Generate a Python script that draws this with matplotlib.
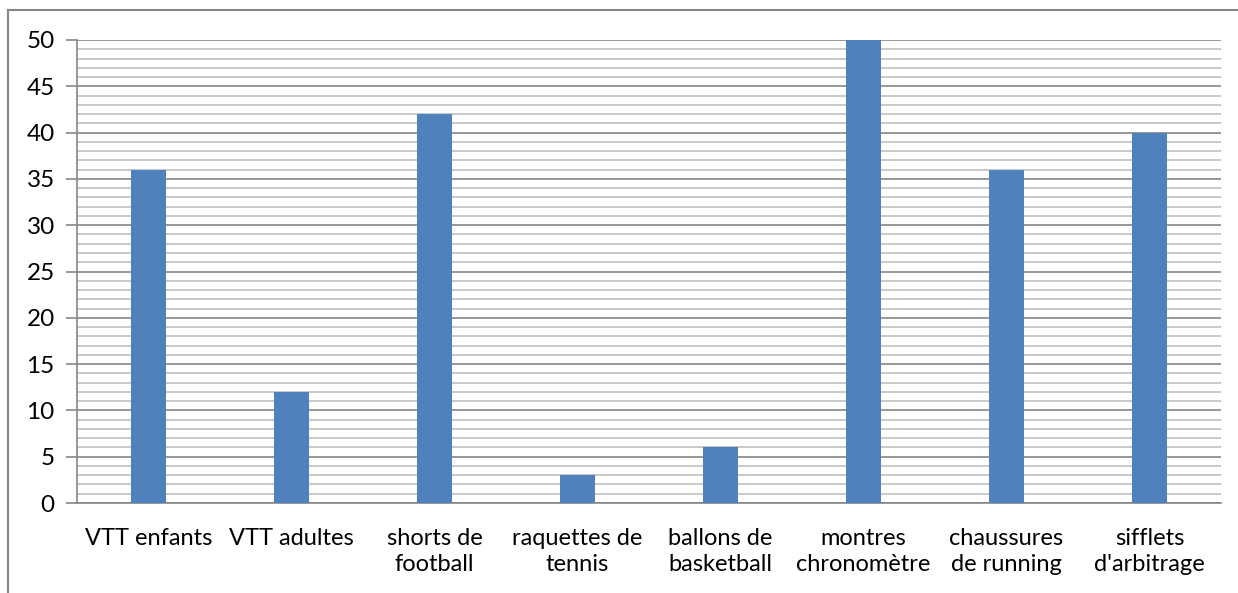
import matplotlib.pyplot as plt
from matplotlib.ticker import MultipleLocator
from matplotlib.lines import Line2D

categories = ["VTT enfants", "VTT adultes", "shorts de\nfootball", "raquettes de\ntennis",
              "ballons de\nbasketball", "montres\nchronomètre", "chaussures\nde running",
              "sifflets\nd'arbitrage"]
values = [36, 12, 42, 3, 6, 50, 36, 40]

plt.rcParams['font.family'] = ['Lato', 'DejaVu Sans']

fig = plt.figure(figsize=(12.38, 5.93), dpi=100)
W, H = 1238, 593
ax = fig.add_axes([77 / W, 1 - 503 / H, (1221 - 77) / W, (503 - 40) / H])

x = list(range(len(categories)))
ax.bar(x, values, width=0.25, color="#4f81bd", zorder=3)
ax.set_xlim(-0.5, len(categories) - 0.5)
ax.set_ylim(0, 50)

ax.yaxis.set_major_locator(MultipleLocator(5))
ax.yaxis.set_minor_locator(MultipleLocator(1))
ax.grid(which="major", axis="y", color="#868686", linewidth=1.2, zorder=1)
ax.grid(which="minor", axis="y", color="#c0c0c0", linewidth=1.2, zorder=0)
ax.tick_params(axis="y", which="major", length=8, width=1.2, color="#868686",
               labelsize=17.5, pad=8)
ax.tick_params(axis="y", which="minor", length=0)
ax.set_xticks(x)
ax.set_xticklabels(categories, fontsize=17, linespacing=1.3)
ax.tick_params(axis="x", length=0, pad=18)

for s in ["top", "right"]:
    ax.spines[s].set_visible(False)
ax.spines["left"].set_color("#868686")
ax.spines["left"].set_linewidth(1.2)
ax.spines["bottom"].set_color("#868686")
ax.spines["bottom"].set_linewidth(1.2)

# outer chart frame (cropped at the bottom and right)
fig.add_artist(Line2D([8 / W, 1], [1 - 10 / H, 1 - 10 / H], transform=fig.transFigure,
                      color="#868686", linewidth=1.5))
fig.add_artist(Line2D([8 / W, 8 / W], [1 - 10 / H, 0], transform=fig.transFigure,
                      color="#868686", linewidth=1.5))

fig.savefig("out.png", dpi=100)
